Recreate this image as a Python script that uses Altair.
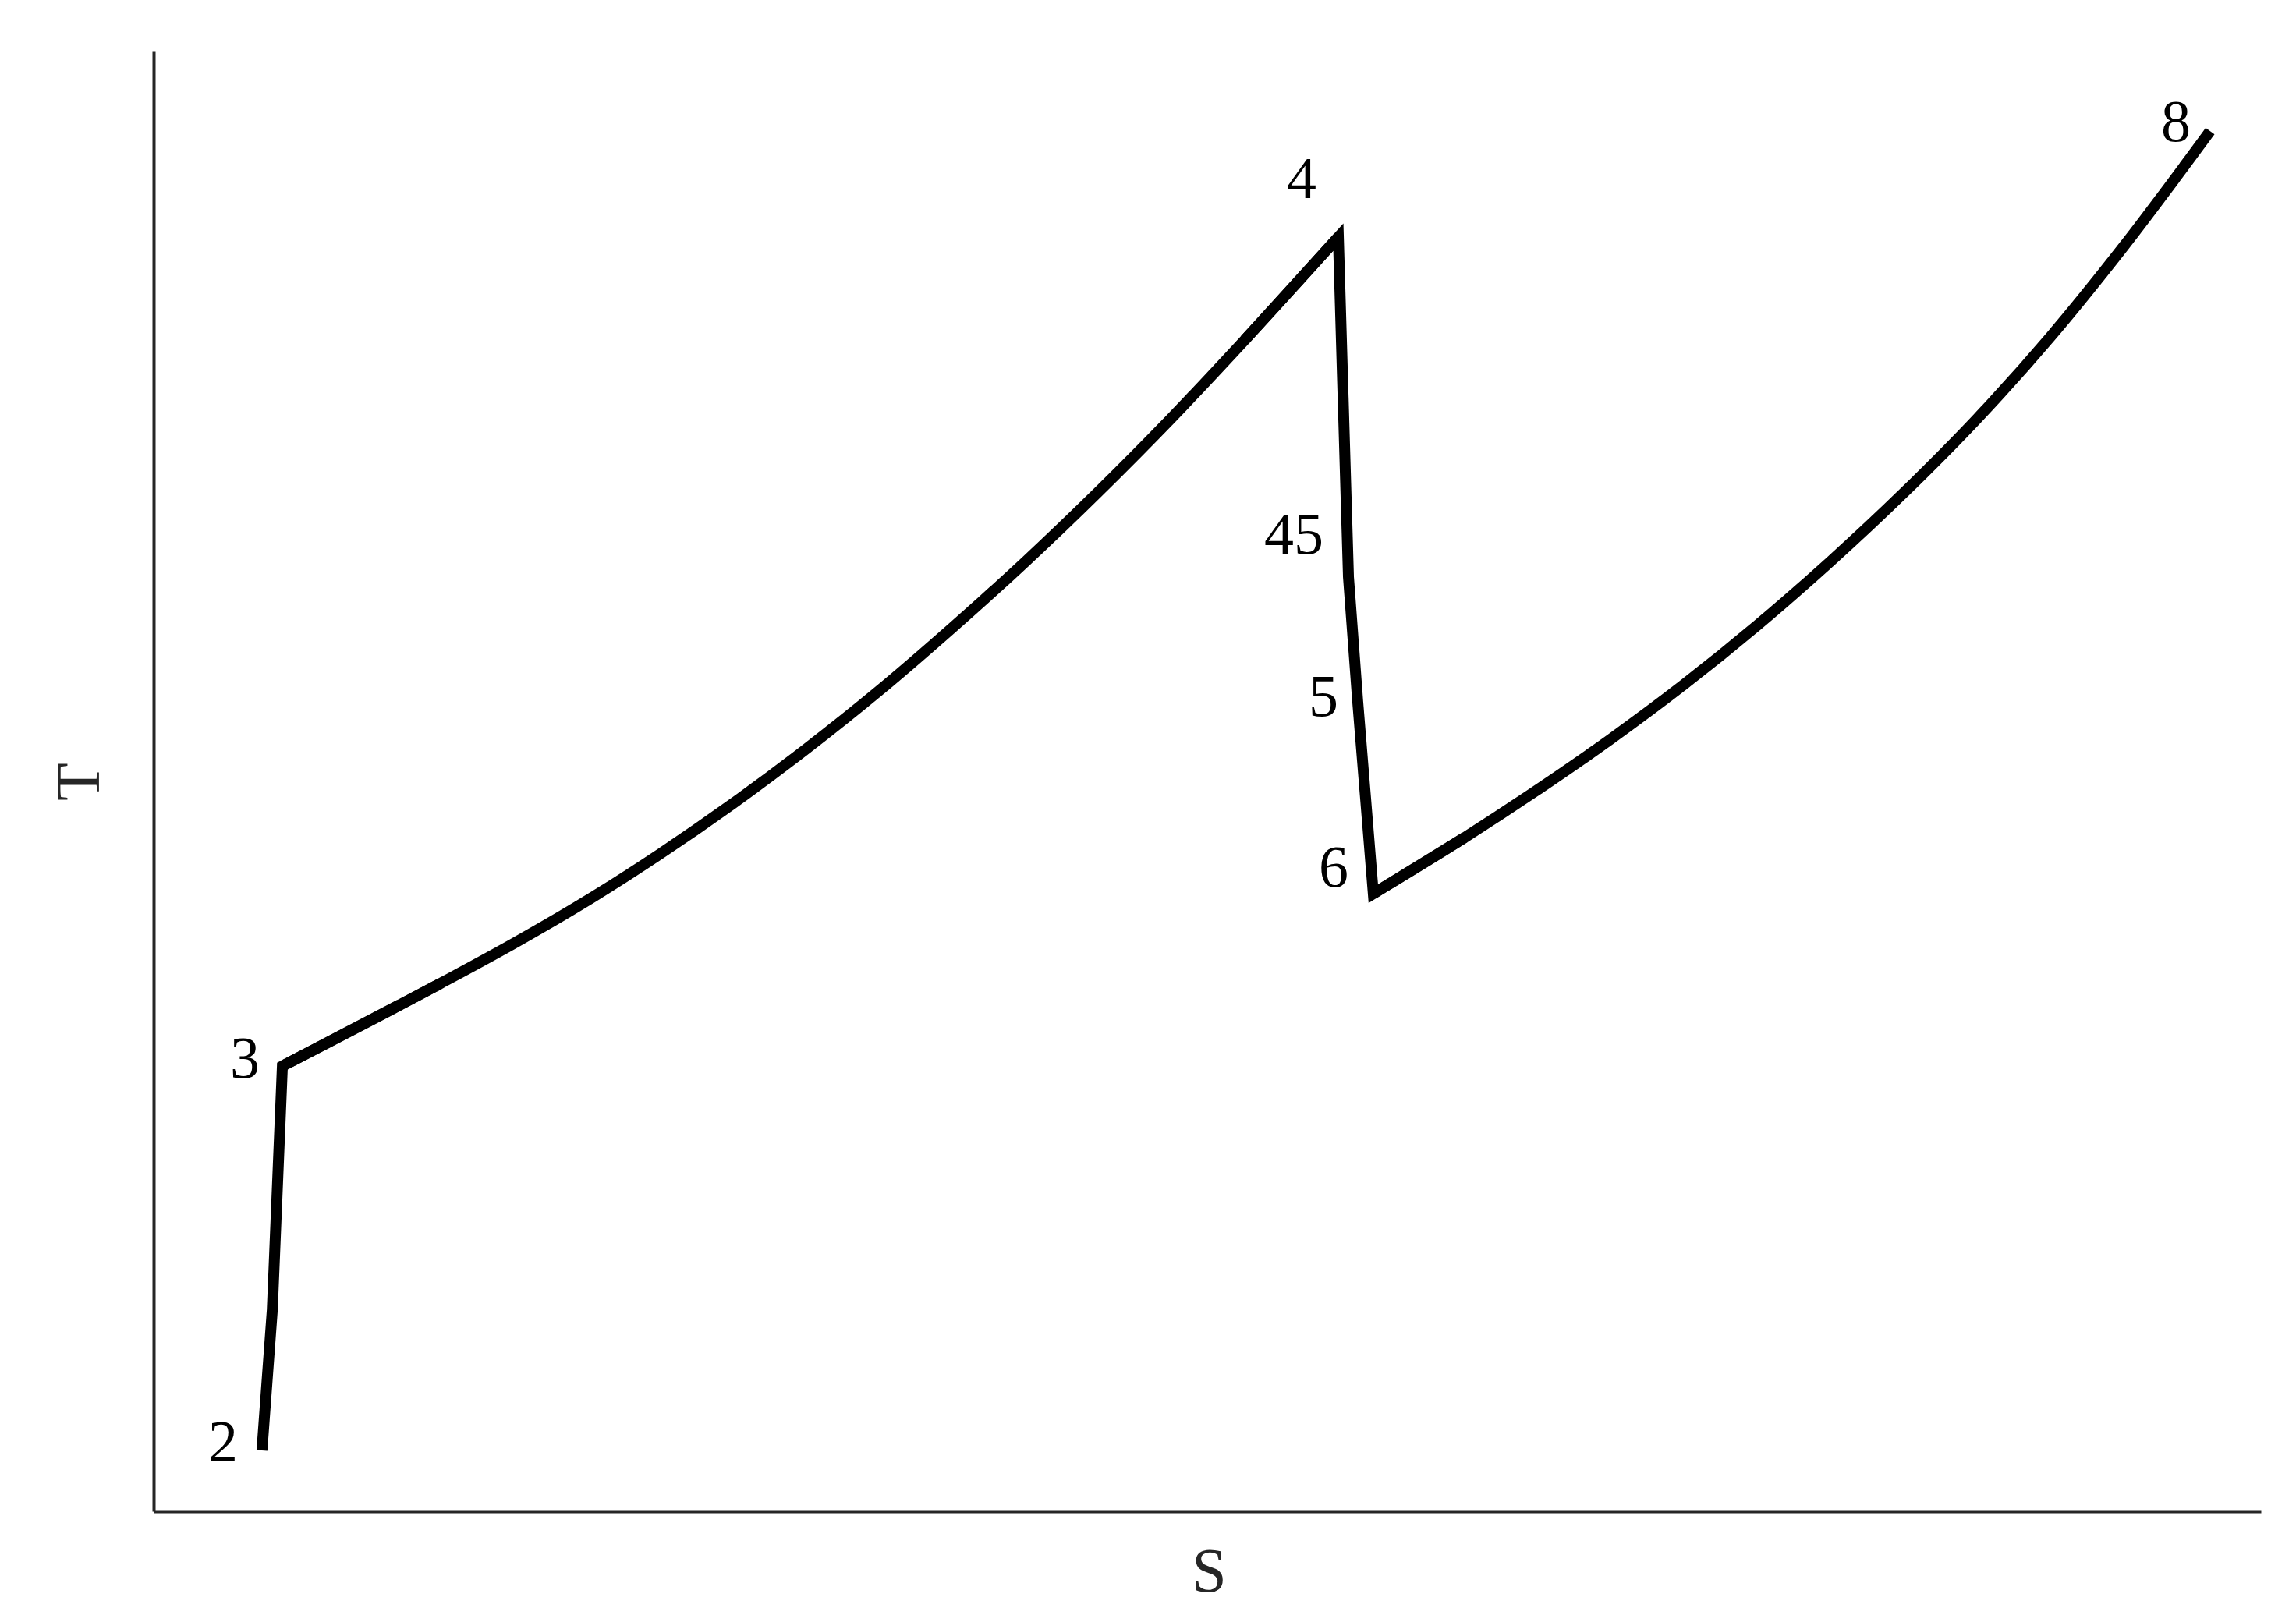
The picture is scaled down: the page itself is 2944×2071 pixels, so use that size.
import altair as alt
import pandas as pd

# T-s path (arbitrary units), in drawing order
path_s = [5.14, 5.63, 6.11, 13.55, 17.02, 20.50, 23.98, 27.46, 30.94, 34.42, 37.86,
          41.34, 44.82, 48.30, 51.78, 56.22, 56.70, 57.14, 57.88, 62.21, 65.66,
          69.13, 72.61, 76.09, 79.57, 83.05, 86.53, 90.01, 93.49, 97.59]
path_T = [4.17, 13.78, 30.50, 36.11, 38.84, 41.77, 44.98, 48.45, 52.19, 56.20, 60.47,
          65.01, 69.82, 74.89, 80.24, 87.29, 64.00, 55.45, 42.31, 46.15, 49.41,
          52.88, 56.62, 60.68, 65.06, 69.76, 74.84, 80.45, 86.65, 94.55]
# straight legs (compression 2-3, expansion 4-6, with their neighbouring points
# so the corners are mitred) and curved heat-addition legs (3-4, 6-8)
leg_straight_c = [0, 1, 2, 3]
leg_straight_t = [14, 15, 16, 17, 18, 19]
leg_curve_b = list(range(2, 16))
leg_curve_a = list(range(18, 30))

# station labels and where they sit
label_text = ["2", "3", "4", "45", "5", "6", "8"]
label_s = [3.29, 4.33, 54.48, 54.11, 55.51, 56.00, 95.97]
label_T = [4.65, 30.93, 91.19, 66.83, 55.72, 44.02, 95.09]


def leg(idx):
    return pd.DataFrame({"S": [path_s[i] for i in idx], "T": [path_T[i] for i in idx],
                         "i": idx})


labels = pd.DataFrame({"S": label_s, "T": label_T, "txt": label_text})

FONT = "Liberation Serif"
LW = 14

xs = alt.Scale(domain=[0, 100], nice=False, zero=False)
ys = alt.Scale(domain=[0, 100], nice=False, zero=False)

xaxis = alt.Axis(title="S", grid=False, ticks=False, labels=False,
                 domainColor="#262626", domainWidth=4,
                 titleFont=FONT, titleFontSize=80, titleFontWeight="normal",
                 titleColor="#262626", titleX=1353, titleY=78,
                 titleBaseline="middle", titleAlign="center")
yaxis = alt.Axis(title="T", grid=False, ticks=False, labels=False,
                 domainColor="#262626", domainWidth=4,
                 titleFont=FONT, titleFontSize=80, titleFontWeight="normal",
                 titleColor="#262626", titleX=-95, titleY=936,
                 titleBaseline="middle", titleAlign="center", titleAngle=270)


def seg(df, interp):
    return alt.Chart(df).mark_line(color="black", strokeWidth=LW, strokeCap="butt",
                                   strokeJoin="miter", strokeMiterLimit=20,
                                   interpolate=interp).encode(
        x=alt.X("S:Q", scale=xs, axis=xaxis),
        y=alt.Y("T:Q", scale=ys, axis=yaxis),
        order="i:Q",
    )


c_line = seg(leg(leg_straight_c), "linear")
t_line = seg(leg(leg_straight_t), "linear")
b_line = seg(leg(leg_curve_b), "monotone")
a_line = seg(leg(leg_curve_a), "monotone")

text = alt.Chart(labels).mark_text(font=FONT, fontSize=76, color="black",
                                   align="center", baseline="middle").encode(
    x=alt.X("S:Q", scale=xs, axis=xaxis),
    y=alt.Y("T:Q", scale=ys, axis=yaxis),
    text="txt:N",
)

chart = (c_line + t_line + b_line + a_line + text).properties(
    width=2702, height=1872,
    padding={"left": 189, "top": 58, "right": 30, "bottom": 120},
    autosize=alt.AutoSizeParams(type="none"),
    background="white",
).configure_view(stroke="transparent", strokeWidth=0)

chart.save("out.html", embed_options={"renderer": "svg", "actions": False})
